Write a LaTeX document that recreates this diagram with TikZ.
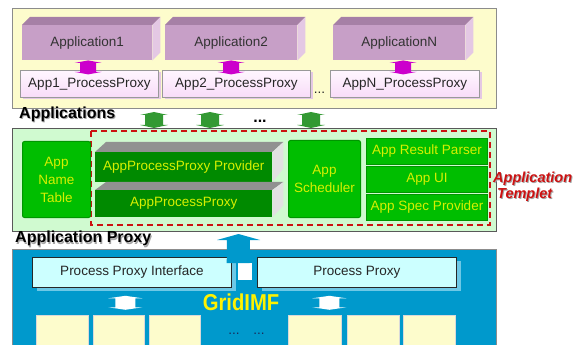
\documentclass[tikz,border=0pt]{standalone}
\usepackage{fontspec}
\setmainfont{Liberation Sans}
\usetikzlibrary{calc,shadows}

\definecolor{panelyellow}{RGB}{253,252,204}
\definecolor{panelgreen}{RGB}{208,250,208}
\definecolor{panelblue}{RGB}{0,153,204}
\definecolor{mauvefront}{RGB}{199,159,199}
\definecolor{mauvetop}{RGB}{166,128,166}
\definecolor{mauveside}{RGB}{228,200,228}
\definecolor{pinktop}{RGB}{255,246,255}
\definecolor{pinkbot}{RGB}{248,220,248}
\definecolor{arrowmagenta}{RGB}{204,0,204}
\definecolor{arrowgreen}{RGB}{51,153,51}
\definecolor{brightgreen}{RGB}{0,190,0}
\definecolor{edgegreen}{RGB}{0,150,0}
\definecolor{bargreen}{RGB}{0,138,0}
\definecolor{bartop}{RGB}{145,145,145}
\definecolor{barside}{RGB}{225,225,225}
\definecolor{labelyellow}{RGB}{215,240,0}
\definecolor{templetred}{RGB}{204,17,17}
\definecolor{cyanbox}{RGB}{204,255,255}
\definecolor{cyanshadow}{RGB}{110,200,230}
\definecolor{cellyellow}{RGB}{253,252,204}
\definecolor{dotnavy}{RGB}{26,42,90}

% vertical double block arrow: style, centre, half length, half head width, half shaft width, head length
\newcommand\vdarrow[6]{%
  \fill[#1] ($(#2)+(0,-#3)$) -- ($(#2)+(#4,-#3+#6)$) -- ($(#2)+(#5,-#3+#6)$)
    -- ($(#2)+(#5,#3-#6)$) -- ($(#2)+(#4,#3-#6)$) -- ($(#2)+(0,#3)$)
    -- ($(#2)+(-#4,#3-#6)$) -- ($(#2)+(-#5,#3-#6)$) -- ($(#2)+(-#5,-#3+#6)$)
    -- ($(#2)+(-#4,-#3+#6)$) -- cycle;}

% mauve application block with top and side faces: name, x, y, width, label
\newcommand\mauvebox[5]{%
  \node[appface, minimum width=#4, minimum height=35pt] (#1) at (#2,#3) {#5};
  \fill[mauvetop] (#1.north west) -- ++(8,-8) -- ($(#1.north east)+(8,-8)$) -- (#1.north east) -- cycle;
  \fill[mauveside] (#1.north east) -- ++(8,-8) -- ($(#1.south east)+(8,-8)$) -- (#1.south east) -- cycle;}

% dark green bar with grey top and side faces: name, x, y, width, height, depth, label
\newcommand\greenbar[7]{%
  \node[barfront, minimum width=#4, minimum height=#5] (#1) at (#2,#3) {#7};
  \fill[bartop] (#1.north west) -- ++(11,-#6) -- ($(#1.north east)+(11,-#6)$) -- (#1.north east) -- cycle;
  \fill[barside] (#1.north east) -- ++(11,-#6) -- ($(#1.south east)+(11,-#6-4)$) -- (#1.south east) -- cycle;}

\begin{document}
\begin{tikzpicture}[x=1pt,y=-1pt,
  base/.style={font=\fontsize{13.5}{16}\selectfont, inner sep=0pt, anchor=north west},
  panel/.style={anchor=north west, inner sep=0pt, line width=1pt, minimum width=484pt},
  appface/.style={base, fill=mauvefront, text=black!80},
  proxybox/.style={base, top color=pinktop, bottom color=pinkbot, draw=black!40, line width=.8pt,
    text=black!85, minimum height=27pt,
    drop shadow={shadow xshift=3pt, shadow yshift=-2pt, fill=mauveside, opacity=1}},
  gbox/.style={base, fill=brightgreen, draw=edgegreen, line width=1pt, text=labelyellow,
    align=center, font=\fontsize{13.5}{18}\selectfont},
  barfront/.style={base, fill=bargreen, text=labelyellow},
  cbox/.style={base, fill=cyanbox, draw=black!85, line width=.8pt, text=black!85,
    minimum width=199pt, minimum height=30pt,
    drop shadow={shadow xshift=5pt, shadow yshift=-4pt, fill=cyanshadow, opacity=1}},
  cell/.style={anchor=north west, inner sep=0pt, fill=cellyellow, draw=black!15, line width=.4pt,
    minimum height=30pt},
  heading/.style={font=\fontsize{16}{18}\selectfont\bfseries, inner sep=0pt, anchor=base west},
  templetlabel/.style={font=\fontsize{14.5}{16}\selectfont\bfseries\itshape, inner sep=0pt, anchor=base west},
]
\useasboundingbox (0,0) rectangle (574,345);

% ---------- layer panels ----------
\node[panel, fill=panelyellow, draw=black!45, minimum height=100pt] (apps) at (12,8) {};
\node[panel, fill=panelgreen, draw=black!65, minimum height=103pt] (proxylayer) at (12,128) {};
\node[panel, fill=panelblue, draw=black!45, minimum height=100pt] (grid) at (12,249) {};

% ---------- applications ----------
\mauvebox{app1}{22}{25}{130pt}{Application1}
\mauvebox{app2}{165}{25}{132pt}{Application2}
\mauvebox{appn}{333}{25}{132pt}{ApplicationN}

\node[proxybox, minimum width=138pt] (px1) at (20,70) {App1\_ProcessProxy};
\node[proxybox, minimum width=148pt] (px2) at (162,70) {App2\_ProcessProxy};
\node[proxybox, minimum width=149pt] (pxn) at (330,70) {AppN\_ProcessProxy};
\node[base, anchor=base, text=black!85] (pxdots) at (319.5,94) {...};

\coordinate (m1) at ($(app1.south)+(1,7)$);
\coordinate (m2) at ($(app2.south)+(0,7)$);
\coordinate (mn) at ($(appn.south)+(4,7)$);
\foreach \c in {m1,m2,mn} {\vdarrow{arrowmagenta}{\c}{7}{13.5}{8}{2.5}}

% layer label and links down to the proxy layer
\node[heading, text=black!35] at (20,119.5) {Applications};
\node[heading, text=black] (appslabel) at (19,118.5) {Applications};

\coordinate (g1) at ($(apps.south west)+(142,11)$);
\coordinate (g2) at ($(apps.south west)+(198,11)$);
\coordinate (g3) at ($(apps.south west)+(299,11)$);
\foreach \c in {g1,g2,g3} {\vdarrow{arrowgreen}{\c}{8}{14}{9}{3}}
\node[heading, anchor=base, text=black] (gdots) at (260,123) {...};

% ---------- application proxy layer ----------
\draw[templetred, line width=1.3pt, dash pattern=on 6pt off 4pt] (91,131) rectangle (490,225);
\coordinate (templetbox) at (490,178);

\node[gbox, minimum width=68pt, minimum height=76pt, rounded corners=2pt] (nametable) at (22,141) {App\\Name\\Table};

\greenbar{ppprovider}{95}{152}{177pt}{30pt}{10}{AppProcessProxy Provider}
\greenbar{ppproxy}{95}{190}{177pt}{27pt}{8}{AppProcessProxy}

\node[gbox, minimum width=72pt, minimum height=77pt, rounded corners=2pt] (scheduler) at (288,140) {App\\Scheduler};

\node[gbox, minimum width=121pt, minimum height=26pt] (parser) at (366,138) {App Result Parser};
\node[gbox, minimum width=121pt, minimum height=26pt] (appui) at (366,166) {App UI};
\node[gbox, minimum width=121pt, minimum height=26pt] (spec) at (366,194) {App Spec Provider};

\node[templetlabel, text=black!35] at (494,183.5) {Application};
\node[templetlabel, text=templetred] (templet1) at (493,182.5) {Application};
\node[templetlabel, text=black!35] at (498,199.5) {Templet};
\node[templetlabel, text=templetred] (templet2) at (497,198.5) {Templet};

% layer label
\node[heading, text=black!35] at (16,244) {Application Proxy};
\node[heading, text=black] (proxylabel) at (15,243) {Application Proxy};

% ---------- GridIMF layer ----------
\node[cbox] (ppi) at (32,257) {Process Proxy Interface};
\node[cbox] (pp) at (257,257) {Process Proxy};

\node[anchor=north west, inner sep=0pt, fill=white, minimum width=14pt, minimum height=17pt,
  drop shadow={shadow xshift=0pt, shadow yshift=0pt, fill=white, opacity=.35, scale=1.4}] (junction) at (238,263) {};

% link from the junction up to the proxy layer
\coordinate (bluetip) at ($(proxylayer.south west)+(226.5,2)$);
\fill[panelblue] (bluetip) -- ++(21.5,6) -- ++(-10,0) -- ($(junction.north)+(4.5,0)$)
  -- ($(junction.north)+(-18.5,0)$) -- ($(bluetip)+(-11.5,6)$) -- ++(-10,0) -- cycle;

\coordinate (w1) at ($(ppi.south)+(-6.5,15)$);
\coordinate (w2) at ($(pp.south)+(-27.5,15)$);
\foreach \c in {w1,w2} {\vdarrow{white}{\c}{7}{17}{10}{2.5}}

\node[inner sep=0pt, text=yellow, font=\fontsize{23}{24}\selectfont\bfseries, xscale=.88] (gridname) at (241,302) {GridIMF};

\node[cell, minimum width=52pt] (c1) at (36,315) {};
\node[cell, minimum width=51pt] (c2) at (93,315) {};
\node[cell, minimum width=51pt] (c3) at (149,315) {};
\node[cell, minimum width=53pt] (c4) at (288,315) {};
\node[cell, minimum width=52pt] (c5) at (347,315) {};
\node[cell, minimum width=52pt] (c6) at (403,315) {};
\node[base, anchor=base, text=dotnavy] (celldots1) at (234,334) {...};
\node[base, anchor=base, text=dotnavy] (celldots2) at (259,334) {...};
\end{tikzpicture}
\end{document}
